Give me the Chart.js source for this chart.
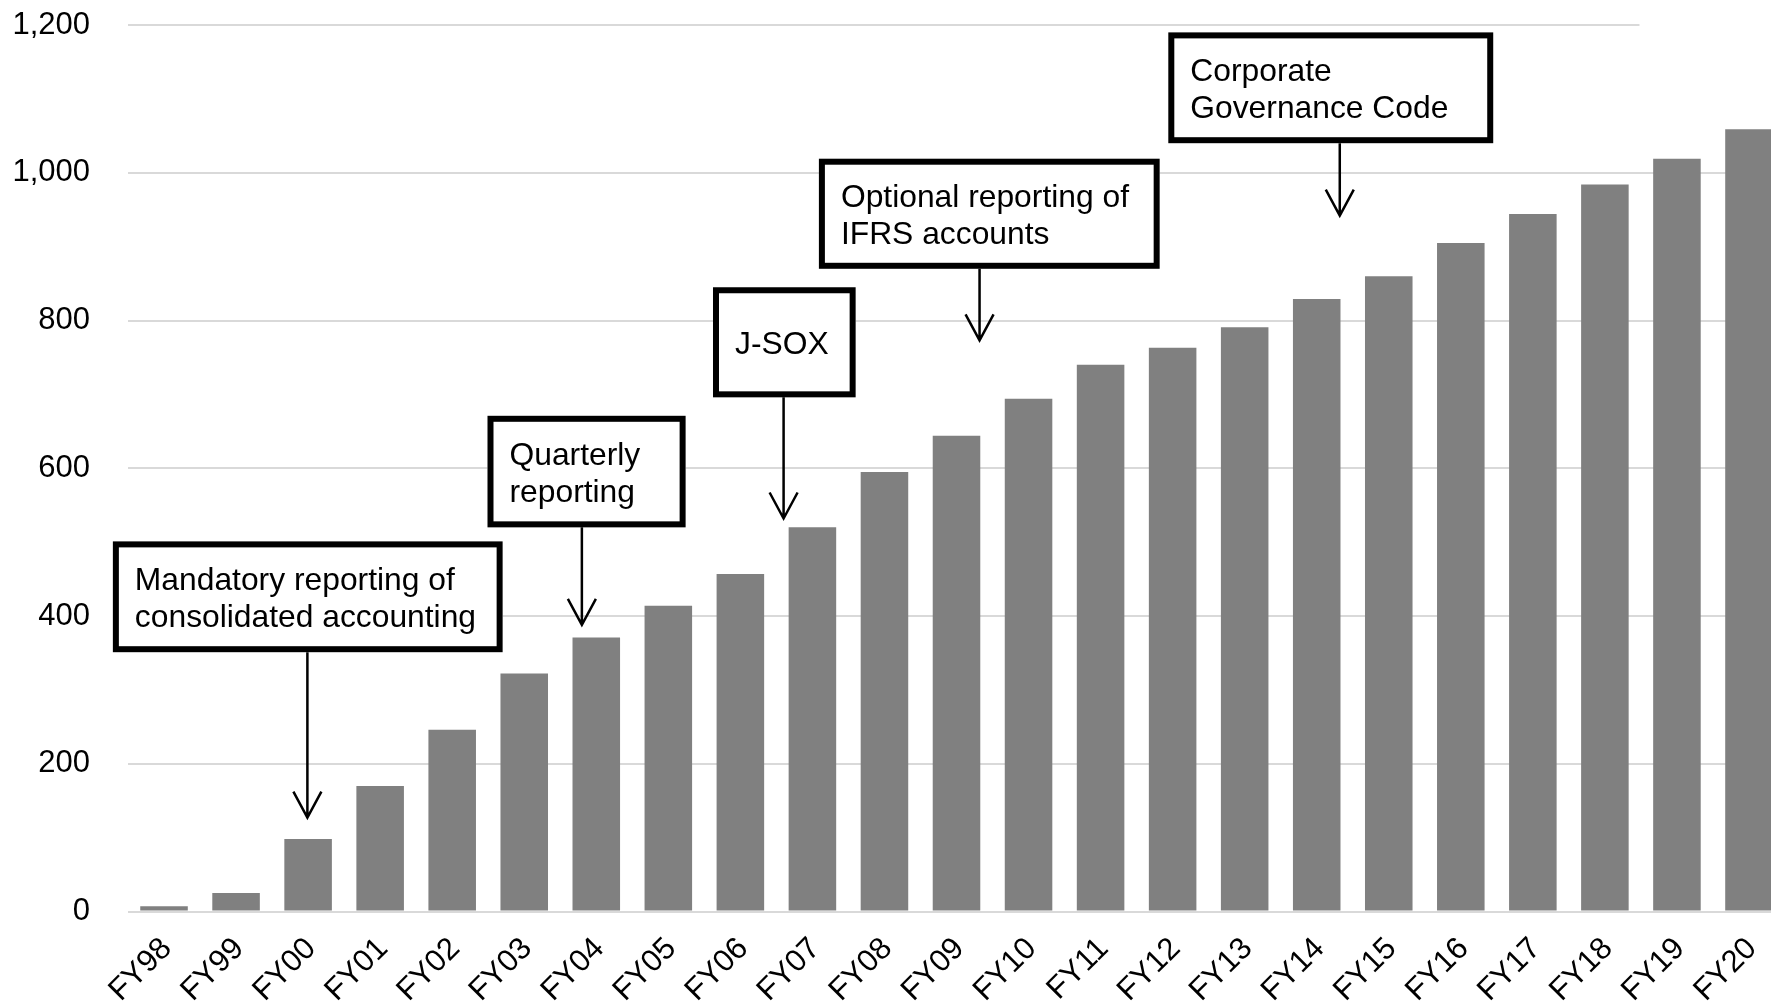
<!DOCTYPE html>
<html>
<head>
<meta charset="utf-8">
<script src="https://cdn.jsdelivr.net/npm/chart.js@4.4.0/dist/chart.umd.min.js"></script>
<style>
  html, body { margin: 0; padding: 0; background: #fff; overflow: hidden; }
  #wrap { width: 1800px; height: 1004px; }
</style>
</head>
<body>
<div id="wrap"><canvas id="chart"></canvas></div>
<script>
// fiscal years and number of companies
const years = ['FY98', 'FY99', 'FY00', 'FY01', 'FY02', 'FY03', 'FY04', 'FY05', 'FY06', 'FY07', 'FY08', 'FY09',
  'FY10', 'FY11', 'FY12', 'FY13', 'FY14', 'FY15', 'FY16', 'FY17', 'FY18', 'FY19', 'FY20'];
const companies = [7, 25, 98, 170, 246, 322, 371, 414, 457, 520, 595, 644,
  694, 740, 763, 791, 829, 860, 905, 944, 984, 1019, 1059];
const yMin = 0;
const yMax = 1200;
const yStep = 200;

// callouts (x in category index, y in axis value)
const noteText = [
  ['Mandatory reporting of', 'consolidated accounting'],
  ['Quarterly', 'reporting'],
  ['J-SOX'],
  ['Optional reporting of', 'IFRS accounts'],
  ['Corporate', 'Governance Code']
];
const noteArrowAt = [1.99, 5.8, 8.6, 11.32, 16.32];
const noteArrowTip = [127, 388, 532, 773, 942];
const noteBoxLeft = [-0.71, 4.49, 7.62, 9.09, 13.94];
const noteBoxRight = [4.70, 7.24, 9.60, 13.82, 18.45];
const noteBoxTop = [501, 671, 845, 1019, 1190];
const noteBoxBottom = [351, 520, 696, 870, 1040];

const FONT = '"Liberation Sans", Arial, sans-serif';
const gridCutAt = 20.48; // top gridline stops here in the original

const callouts = {
  id: 'callouts',
  beforeDatasetsDraw(chart) {
    const { ctx, scales: { x, y } } = chart;
    const cut = x.getPixelForValue(gridCutAt);
    const top = y.getPixelForValue(yMax);
    ctx.save();
    ctx.fillStyle = '#fff';
    ctx.fillRect(cut, top - 4, chart.width - cut, 8);
    ctx.restore();
  },
  afterDatasetsDraw(chart) {
    const { ctx, scales: { x, y } } = chart;
    ctx.save();
    noteText.forEach((lines, i) => {
      const l = x.getPixelForValue(noteBoxLeft[i]);
      const r = x.getPixelForValue(noteBoxRight[i]);
      const t = y.getPixelForValue(noteBoxTop[i]);
      const b = y.getPixelForValue(noteBoxBottom[i]);
      const lw = 6;
      ctx.fillStyle = '#fff';
      ctx.fillRect(l, t, r - l, b - t);
      ctx.strokeStyle = '#000';
      ctx.lineWidth = lw;
      ctx.strokeRect(l + lw / 2, t + lw / 2, r - l - lw, b - t - lw);

      ctx.fillStyle = '#000';
      ctx.font = '31.8px ' + FONT;
      ctx.textAlign = 'left';
      ctx.textBaseline = 'alphabetic';
      const lh = 37.3;
      let base = t + ((b - t) - (lines.length - 1) * lh) / 2 + 12;
      lines.forEach((s, k) => ctx.fillText(s, l + 22, base + k * lh));

      // arrow
      const ax = x.getPixelForValue(noteArrowAt[i]);
      const tip = y.getPixelForValue(noteArrowTip[i]);
      ctx.lineWidth = 2.5;
      ctx.beginPath();
      ctx.moveTo(ax, b);
      ctx.lineTo(ax, tip);
      ctx.moveTo(ax - 14, tip - 26);
      ctx.lineTo(ax, tip);
      ctx.lineTo(ax + 14, tip - 26);
      ctx.stroke();
    });
    ctx.restore();
  }
};

new Chart(document.getElementById('chart'), {
  type: 'bar',
  data: {
    labels: years,
    datasets: [{
      data: companies,
      backgroundColor: '#808080',
      borderWidth: 0,
      barPercentage: 0.66,
      categoryPercentage: 1
    }]
  },
  options: {
    responsive: true,
    maintainAspectRatio: false,
    animation: false,
    layout: { autoPadding: false, padding: { top: 25, right: 15, bottom: 0, left: 0 } },
    plugins: {
      legend: { display: false },
      tooltip: { enabled: false }
    },
    scales: {
      x: {
        grid: { display: false },
        border: { display: false },
        ticks: {
          color: '#000',
          font: { family: FONT, size: 31 },
          minRotation: 45,
          maxRotation: 45,
          autoSkip: false,
          padding: 11,
          labelOffset: 3
        },
        afterFit: s => { s.height = 92.5; s.paddingLeft = 0; s.paddingRight = 0; }
      },
      y: {
        min: yMin,
        max: yMax,
        border: { display: false },
        grid: { color: '#d9d9d9', lineWidth: 2, drawTicks: false },
        ticks: {
          stepSize: yStep,
          color: '#000',
          font: { family: FONT, size: 31 },
          padding: 38,
          callback: v => v.toLocaleString('en-US')
        },
        afterFit: s => { s.width = 128; s.paddingTop = 0; s.paddingBottom = 0; }
      }
    }
  },
  plugins: [callouts]
});
</script>
</body>
</html>
